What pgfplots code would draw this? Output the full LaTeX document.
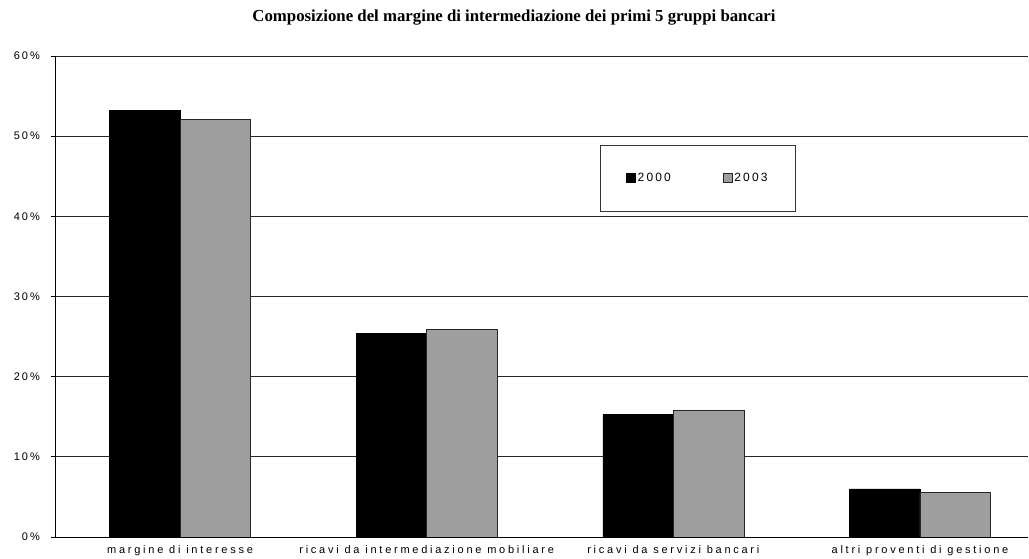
\documentclass[border=0pt]{standalone}
\usepackage{fontspec}
\usepackage{pgfplots}
\pgfplotsset{compat=1.18}
\setmainfont{Liberation Serif}
\newfontfamily\lbl[LetterSpace=25]{Liberation Sans}
\newfontfamily\tck[LetterSpace=18]{Liberation Sans}

\definecolor{stipple}{gray}{0.62}

\begin{document}
\begin{tikzpicture}
    % page frame: plot area starts at (0,0)
    \useasboundingbox (-55pt,-22pt) rectangle (974pt,537pt);
    \begin{axis}[
        at={(0,0)}, anchor=south west,
        scale only axis,
        width=973pt, height=481pt,
        ybar=0pt, bar width=70.5pt,
        xmin=-0.507, xmax=3.438,
        ymin=0, ymax=60,
        enlarge x limits=false, enlarge y limits=false,
        axis x line*=bottom, axis y line*=left,
        axis line style={black, line width=0.8pt},
        ymajorgrids,
        grid style={black!85, line width=0.7pt},
        ytick={0,10,...,60},
        yticklabels={0\%,10\%,20\%,30\%,40\%,50\%,60\%},
        xtick={0,1,2,3},
        xticklabels={margine di interesse, ricavi da intermediazione mobiliare, ricavi da servizi bancari, altri proventi di gestione},
        xtick style={draw=none},
        ytick style={black, line width=0.8pt},
        tick align=outside, major tick length=4pt,
        xticklabel style={font=\lbl\fontsize{11}{12}\selectfont, inner sep=0pt, yshift=-4pt},
        yticklabel style={font=\tck\fontsize{11}{12}\selectfont, inner sep=0pt, xshift=-11pt},
        legend columns=2,
        legend style={at={(0.560,0.815)}, anchor=north west,
            draw=black!80, line width=0.6pt,
            inner xsep=26pt, inner ysep=26pt,
            font=\tck\fontsize{12}{13}\selectfont,
            /tikz/every even column/.append style={column sep=50pt}},
        legend image code/.code={\draw[#1, line width=0.5pt] (0pt,-4.5pt) rectangle (9pt,4.5pt);},
    ]
    \addplot[fill=black, draw=black] coordinates {(0,53.2) (1,25.4) (2,15.3) (3,6.0)};
    \addplot[fill=stipple, draw=black!85, line width=0.6pt] coordinates {(0,52.1) (1,25.9) (2,15.8) (3,5.6)};
    \legend{2000,2003}
    \end{axis}
    \node[font=\bfseries\fontsize{16.8}{18}\selectfont] at (459pt,519pt) {Composizione del margine di intermediazione dei primi 5 gruppi bancari};
\end{tikzpicture}
\end{document}
